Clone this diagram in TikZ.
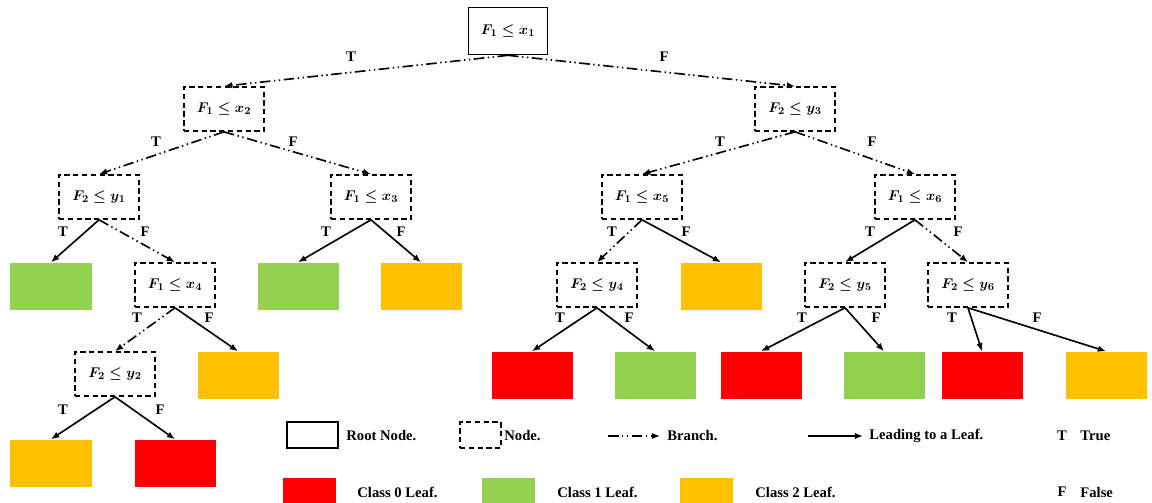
\documentclass[tikz,border=0pt]{standalone}
\usepackage{fontspec}
\setmainfont{Liberation Serif}
\usetikzlibrary{arrows.meta}
\definecolor{cred}{HTML}{FF0000}
\definecolor{cgreen}{HTML}{92D050}
\definecolor{corange}{HTML}{FFC000}
\tikzset{
	rootbox/.style={draw, line width=1.4pt, minimum width=2.37cm, minimum height=1.41cm, inner sep=0pt, font=\fontsize{12.5}{14}\selectfont\boldmath},
	nodebox/.style={draw, dash pattern=on 4.5pt off 3pt, line width=1.4pt, minimum width=2.4cm, minimum height=1.32cm, inner sep=0pt, font=\fontsize{12.5}{14}\selectfont\boldmath},
	leaf/.style={minimum width=2.43cm, minimum height=1.41cm, inner sep=0pt},
	branch/.style={line width=1.4pt, dash pattern=on 9pt off 3pt on 1.2pt off 3pt on 1.2pt off 3pt, -{Latex[length=7pt,width=5.5pt]}},
	toleaf/.style={line width=1.4pt, -{Latex[length=7pt,width=5.5pt]}},
	lbl/.style={font=\bfseries\fontsize{12.5}{14}\selectfont, inner sep=1pt}
}
\begin{document}
\begin{tikzpicture}[x=0.03cm, y=-0.03cm]
	\useasboundingbox (0,0) rectangle (1152,502);
	% Root
	\node[rootbox] (root) at (508,31) {$F_1 \le x_1$};

	% Level 1
	\node[nodebox] (n2) at (224,109) {$F_1 \le x_2$};
	\node[nodebox] (n3) at (795,109) {$F_2 \le y_3$};
	\draw[branch] (root.south) -- (n2.north);
	\draw[branch] (root.south) -- (n3.north);
	\node[lbl] (t1) at (351,57) {T};
	\node[lbl] (f1) at (664,57) {F};

	% Level 2
	\node[nodebox] (n4) at (99,197) {$F_2 \le y_1$};
	\node[nodebox] (n5) at (371,197) {$F_1 \le x_3$};
	\node[nodebox] (n6) at (642,197) {$F_1 \le x_5$};
	\node[nodebox] (n7) at (915,197) {$F_1 \le x_6$};
	\draw[branch] (n2.south) -- (n4.north);
	\draw[branch] (n2.south) -- (n5.north);
	\draw[branch] (n3.south) -- (n6.north);
	\draw[branch] (n3.south) -- (n7.north);
	\node[lbl] (t2) at (156,142) {T};
	\node[lbl] (f2) at (293,142) {F};
	\node[lbl] (t3) at (720,142) {T};
	\node[lbl] (f3) at (872,142) {F};

	% Level 3
	\node[leaf, fill=cgreen] (l1) at (51,286) {};
	\node[nodebox] (n8) at (175,285) {$F_1 \le x_4$};
	\node[leaf, fill=cgreen] (l2) at (298,286) {};
	\node[leaf, fill=corange] (l3) at (421,286) {};
	\node[nodebox] (n9) at (597,285) {$F_2 \le y_4$};
	\node[leaf, fill=corange] (l4) at (721,286) {};
	\node[nodebox] (n10) at (845,285) {$F_2 \le y_5$};
	\node[nodebox] (n11) at (968,285) {$F_2 \le y_6$};
	\draw[toleaf] (n4.south) -- (l1.north);
	\draw[branch] (n4.south) -- (n8.north);
	\draw[toleaf] (n5.south) -- (l2.north);
	\draw[toleaf] (n5.south) -- (l3.north);
	\draw[branch] (n6.south) -- (n9.north);
	\draw[toleaf] (n6.south) -- (l4.north);
	\draw[toleaf] (n7.south) -- (n10.north);
	\draw[branch] (n7.south) -- (n11.north);
	\node[lbl] (t4) at (63,232) {T};
	\node[lbl] (f4) at (145,232) {F};
	\node[lbl] (t5) at (326,232) {T};
	\node[lbl] (f5) at (401,232) {F};
	\node[lbl] (t6) at (612,232) {T};
	\node[lbl] (f6) at (686,232) {F};
	\node[lbl] (t7) at (870,232) {T};
	\node[lbl] (f7) at (958,232) {F};

	% Level 4
	\node[nodebox] (n12) at (115,374) {$F_2 \le y_2$};
	\node[leaf, fill=corange] (l5) at (238,375) {};
	\node[leaf, fill=cred] (l6) at (532,375) {};
	\node[leaf, fill=cgreen] (l7) at (655,375) {};
	\node[leaf, fill=cred] (l8) at (761,375) {};
	\node[leaf, fill=cgreen] (l9) at (884,375) {};
	\node[leaf, fill=cred] (l10) at (982,375) {};
	\node[leaf, fill=corange] (l11) at (1106,375) {};
	\draw[branch] (n8.south) -- (n12.north);
	\draw[toleaf] (n8.south) -- (l5.north);
	\draw[toleaf] (n9.south) -- (l6.north);
	\draw[toleaf] (n9.south) -- (l7.north);
	\draw[toleaf] (n10.south) -- (l8.north);
	\draw[toleaf] (n10.south) -- (l9.north);
	\draw[toleaf] (n11.south) -- (l10.north);
	\draw[toleaf] (n11.south) -- (l11.north);
	\node[lbl] (t8) at (137,318) {T};
	\node[lbl] (f8) at (209,318) {F};
	\node[lbl] (t9) at (560,318) {T};
	\node[lbl] (f9) at (629,318) {F};
	\node[lbl] (t10) at (802,318) {T};
	\node[lbl] (f10) at (876,318) {F};
	\node[lbl] (t11) at (952,318) {T};
	\node[lbl] (f11) at (1037,318) {F};

	% Level 5
	\node[leaf, fill=corange] (l12) at (51,463) {};
	\node[leaf, fill=cred] (l13) at (175,463) {};
	\draw[toleaf] (n12.south) -- (l12.north);
	\draw[toleaf] (n12.south) -- (l13.north);
	\node[lbl] (t12) at (63,410) {T};
	\node[lbl] (f12) at (160,410) {F};

	% Legend
	\node[rootbox, minimum width=1.53cm, minimum height=0.78cm] (lgroot) at (312.5,435) {};
	\node[lbl, anchor=west] (lgroottxt) at (345,436) {Root Node.};
	\node[nodebox, minimum width=1.23cm, minimum height=0.78cm] (lgnode) at (480.5,435) {};
	\node[lbl, anchor=west] (lgnodetxt) at (503,436) {Node.};
	\coordinate (lgba) at (608,436);
	\coordinate (lgbb) at (660,436);
	\draw[branch] (lgba) -- (lgbb);
	\node[lbl, anchor=west] (lgbtxt) at (666,436) {Branch.};
	\coordinate (lgla) at (808,436);
	\coordinate (lglb) at (863,436);
	\draw[toleaf] (lgla) -- (lglb);
	\node[lbl, anchor=west] (lgltxt) at (868,436) {Leading to a Leaf.};
	\node[lbl] (lgt) at (1062,436) {T};
	\node[lbl, anchor=west] (lgttxt) at (1079,436) {True};

	\node[leaf, fill=cred, minimum width=1.59cm, minimum height=0.8cm] (lgc0) at (309.5,491) {};
	\node[lbl, anchor=west] (lgc0txt) at (356,492) {Class 0 Leaf.};
	\node[leaf, fill=cgreen, minimum width=1.59cm, minimum height=0.8cm] (lgc1) at (508.5,491) {};
	\node[lbl, anchor=west] (lgc1txt) at (556,492) {Class 1 Leaf.};
	\node[leaf, fill=corange, minimum width=1.59cm, minimum height=0.8cm] (lgc2) at (706.5,491) {};
	\node[lbl, anchor=west] (lgc2txt) at (754,492) {Class 2 Leaf.};
	\node[lbl] (lgf) at (1062,492) {F};
	\node[lbl, anchor=west] (lgftxt) at (1079,492) {False};
\end{tikzpicture}
\end{document}
